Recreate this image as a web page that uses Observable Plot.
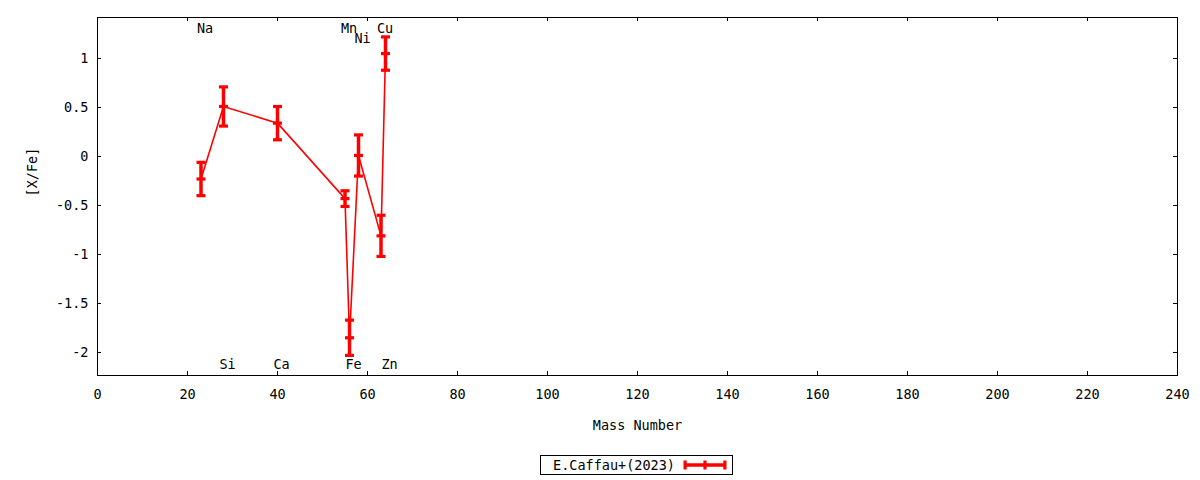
<!DOCTYPE html>
<html>
<head>
<meta charset="utf-8">
<script src="https://cdn.jsdelivr.net/npm/d3@7"></script>
<script src="https://cdn.jsdelivr.net/npm/@observablehq/plot@0.6"></script>
<style>
  html, body { margin: 0; padding: 0; background: #fff; }
  #wrap { position: relative; width: 1200px; height: 480px; font-family: "DejaVu Sans Mono", monospace; }
  #legend { position: absolute; left: 540px; top: 455px; width: 191px; height: 18px; border: 1px solid #000;
            background: #fff; font-size: 13.5px; display: flex; align-items: center; box-sizing: content-box; }
  #legend span { margin-left: 12px; }
  #legend svg { margin-left: 8px; }
</style>
</head>
<body>
<div id="wrap"></div>
<script>
const elements     = ["Na", "Si", "Ca", "Mn", "Fe", "Ni", "Cu", "Zn"];
const massNumbers  = [23, 28, 40, 55, 56, 58, 63, 64];
const abundances   = [-0.23, 0.51, 0.34, -0.43, -1.85, 0.01, -0.81, 1.05];
const errors       = [0.17, 0.20, 0.17, 0.08, 0.18, 0.21, 0.21, 0.17];
const labelY       = [1.3, -2.12, -2.12, 1.3, -2.12, 1.2, 1.3, -2.12];
const xTicks = [0, 20, 40, 60, 80, 100, 120, 140, 160, 180, 200, 220, 240];
const yTicks = [-2, -1.5, -1, -0.5, 0, 0.5, 1];
const seriesName = "E.Caffau+(2023)";

const data = elements.map((el, i) => ({
  el, x: massNumbers[i], y: abundances[i], e: errors[i], ly: labelY[i]
}));

const RED = "#ff0000";
const cap = {draw(ctx) { const w = 4.5, h = 1.6; ctx.moveTo(-w, -h); ctx.lineTo(w, -h); ctx.lineTo(w, h); ctx.lineTo(-w, h); ctx.closePath(); }};
const FONT = "DejaVu Sans Mono";

const plot = Plot.plot({
  width: 1200,
  height: 480,
  marginLeft: 97,
  marginRight: 23,
  marginTop: 17,
  marginBottom: 105,
  style: {fontFamily: FONT, fontSize: "13.5px", color: "#000", background: "#fff"},
  x: {domain: [0, 240]},
  y: {domain: [-2.235, 1.418]},
  marks: [
    Plot.frame({stroke: "#000", strokeWidth: 1}),
    // inward ticks on all four sides
    Plot.tickX(xTicks, {x: d => d, insetTop: 354, stroke: "#000"}),
    Plot.tickX(xTicks, {x: d => d, insetBottom: 354, stroke: "#000"}),
    Plot.tickY(yTicks, {y: d => d, insetRight: 1076, stroke: "#000"}),
    Plot.tickY(yTicks, {y: d => d, insetLeft: 1076, stroke: "#000"}),
    Plot.axisX(xTicks, {tickSize: 0, tickPadding: 14, label: null, tickFormat: d => String(d), fontSize: 13.5}),
    Plot.axisY(yTicks, {tickSize: 0, tickPadding: 9, label: null, tickFormat: d => String(d), fontSize: 13.5}),
    Plot.text(["Mass Number"], {frameAnchor: "bottom", dy: 54, text: d => d, fontSize: 13.5}),
    Plot.text(["[X/Fe]"], {frameAnchor: "left", dx: -65, rotate: -90, text: d => d, fontSize: 13.5}),
    // data
    Plot.line(data, {x: "x", y: "y", stroke: RED, strokeWidth: 1.6}),
    Plot.ruleX(data, {x: "x", y1: d => d.y - d.e, y2: d => d.y + d.e, stroke: RED, strokeWidth: 3.5}),
    Plot.dot(data, {x: "x", y: d => d.y + d.e, symbol: cap, r: 4, fill: RED, stroke: null}),
    Plot.dot(data, {x: "x", y: d => d.y - d.e, symbol: cap, r: 4, fill: RED, stroke: null}),
    Plot.dot(data, {x: "x", y: "y", symbol: cap, r: 4, fill: RED, stroke: null}),
    // element labels
    Plot.text(data, {x: "x", y: "ly", text: "el", dx: 4, fontSize: 13.5, fill: "#000"})
  ]
});

const wrap = document.getElementById("wrap");
wrap.appendChild(plot);

const legend = document.createElement("div");
legend.id = "legend";
legend.innerHTML = `<span>${seriesName}</span>
<svg width="44" height="12" viewBox="0 0 44 12">
  <line x1="2" y1="6" x2="42" y2="6" stroke="${RED}" stroke-width="3.5"/>
  <rect x="0.5" y="1.5" width="3.2" height="9" fill="${RED}"/>
  <rect x="20.4" y="1.5" width="3.2" height="9" fill="${RED}"/>
  <rect x="40.3" y="1.5" width="3.2" height="9" fill="${RED}"/>
</svg>`;
wrap.appendChild(legend);
</script>
</body>
</html>
